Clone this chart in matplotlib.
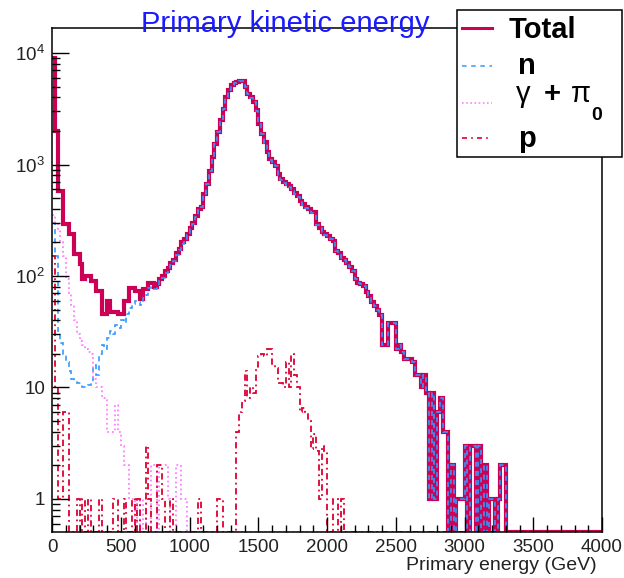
import numpy as np
import matplotlib
matplotlib.use("Agg")
import matplotlib.pyplot as plt
from matplotlib.patches import Rectangle
from matplotlib.ticker import FixedLocator, MultipleLocator, LogLocator, FuncFormatter, NullFormatter

plt.rcParams['font.family'] = ['Liberation Sans', 'DejaVu Sans']
plt.rcParams['mathtext.fontset'] = 'custom'
plt.rcParams['mathtext.rm'] = 'Liberation Sans'
plt.rcParams['mathtext.it'] = 'Liberation Sans:italic'
plt.rcParams['mathtext.bf'] = 'Liberation Sans:bold'

# ---------------- data (20 GeV bins from 0 to 4000 GeV) ----------------
bin_width = 20
energy_min, energy_max = 0, 4000

total = [
    9000, 2000, 580, 580, 294, 294, 239, 239, 158, 158,
    128, 94, 100, 100, 91, 91, 74, 74, 46, 46,
    60, 48, 48, 48, 46, 46, 60, 60, 78, 78,
    74, 74, 62, 76, 76, 87, 87, 80, 85, 94,
    100, 110, 118, 130, 140, 160, 175, 200, 215, 240,
    270, 300, 345, 400, 420, 545, 670, 883, 1164, 1535,
    1954, 2490, 3175, 4040, 4640, 5150, 5400, 5510, 5650, 5600,
    4970, 4330, 4000, 3640, 3060, 2330, 1890, 1590, 1291, 1125,
    1050, 980, 824, 743, 700, 670, 640, 604, 560, 526,
    474, 440, 412, 400, 372, 372, 292, 270, 250, 238,
    230, 215, 206, 168, 160, 146, 140, 132, 120, 111,
    95, 87, 84, 81, 72, 66, 58, 54, 50, 45,
    24, 24, 38, 38, 38, 22, 24, 21, 18, 18,
    18, 17, 13, 13, 10, 13, 9, 1, 9, 1,
    6, 8, 4, 4, 0, 2, 0, 1, 1, 1,
    3, 0, 3, 3, 0, 3, 0, 2, 0, 1,
    1, 0, 1, 2, 2, 0, 0, 0, 0, 0,
    0, 0, 0, 0, 0, 0, 0, 0, 0, 0,
    0, 0, 0, 0, 0, 0, 0, 0, 0, 0,
    0, 0, 0, 0, 0, 0, 0, 0, 0, 0,
]

neutron = [
    300, 150, 32, 25, 20, 17, 14, 12, 11.5, 11,
    11, 10, 10, 10.5, 11, 16, 13, 20, 24, 22,
    28, 32, 30, 36, 34, 40, 38, 46, 52, 56,
    60, 58, 55, 64, 68, 78, 80, 76, 82, 90,
    96, 106, 114, 126, 136, 155, 170, 195, 210, 235,
    265, 295, 340, 395, 415, 540, 665, 878, 1160, 1530,
    1950, 2485, 3170, 4030, 4630, 5140, 5390, 5500, 5640, 5590,
    4955, 4320, 3990, 3630, 3045, 2310, 1870, 1570, 1270, 1105,
    1035, 965, 813, 732, 690, 653, 630, 584, 547, 516,
    468, 433, 406, 395, 369, 368, 289, 269, 247, 235,
    230, 215, 205, 167, 160, 145, 140, 132, 120, 111,
    95, 87, 84, 81, 72, 66, 58, 54, 50, 45,
    24, 24, 38, 38, 38, 22, 24, 21, 18, 18,
    18, 17, 13, 13, 10, 13, 9, 1, 9, 1,
    6, 8, 4, 4, 0, 2, 0, 1, 1, 1,
    3, 0, 3, 3, 0, 3, 0, 2, 0, 1,
    1, 0, 1, 2, 2, 0, 0, 0, 0, 0,
    0, 0, 0, 0, 0, 0, 0, 0, 0, 0,
    0, 0, 0, 0, 0, 0, 0, 0, 0, 0,
    0, 0, 0, 0, 0, 0, 0, 0, 0, 0,
]

gamma_pi0 = [
    350, 300, 260, 200, 150, 95, 70, 55, 40, 30,
    26, 24, 22, 21, 20, 12, 10, 10, 8, 8,
    4, 4, 4, 7, 4, 3, 2, 2, 1, 1,
    0, 1, 0, 1, 0, 0, 2, 2, 0, 2,
    2, 2, 1, 0, 0, 2, 2, 1, 1, 0,
] + [0] * 150

proton = [
    150, 10, 1, 1, 6, 6, 0, 0, 0, 1,
    0, 1, 0, 1, 0, 0, 0, 1, 0, 0,
    0, 0, 1, 1, 0, 0, 1, 0, 0, 1,
    0, 1, 0, 0, 3, 1, 0, 0, 2, 2,
    1, 0, 0, 1, 0, 0, 0, 0, 0, 0,
    0, 0, 0, 1, 0, 0, 0, 0, 0, 0,
    1, 1, 0, 0, 0, 0, 0, 4, 6, 7.5,
    14, 8, 10, 9, 15, 19, 20, 19, 22, 22,
    16, 15, 11, 11, 10, 17, 10, 20, 13, 10,
    6, 6.6, 6, 5, 2.8, 3.8, 2.7, 1, 3, 2.7,
    0, 0, 1, 1, 0, 1, 0, 0, 0, 0,
] + [0] * 90

x_major = [0, 500, 1000, 1500, 2000, 2500, 3000, 3500, 4000]
y_major = [1, 10, 100, 1000, 10000]
y_labels = {1: '1', 10: '10', 100: r'$\mathregular{10^{2}}$',
            1000: r'$\mathregular{10^{3}}$', 10000: r'$\mathregular{10^{4}}$'}

# ---------------- figure ----------------
W, H = 624, 578
fig = plt.figure(figsize=(W / 100, H / 100), dpi=100)
ax_l, ax_r, ax_t, ax_b = 52, 602, 28, 532
ax = fig.add_axes([ax_l / W, 1 - ax_b / H, (ax_r - ax_l) / W, (ax_b - ax_t) / H])

ymin, ymax = 0.505, 1.68e4
edges = np.arange(energy_min, energy_max + bin_width, bin_width)


def floor(v):
    v = np.asarray(v, dtype=float)
    return np.where(v > 0, v, ymin)


c_total = '#cc0055'
c_n = '#3399ff'
c_g = '#ff80ff'
c_p = '#dd0033'

ax.stairs(floor(total), edges, baseline=None, color=c_total, lw=3.0)
ax.stairs(floor(neutron), edges, baseline=None, color=c_n, lw=1.2,
          linestyle=(0, (3, 2.5)))
ax.stairs(floor(gamma_pi0), edges, baseline=None, color=c_g, lw=1.3,
          linestyle=(0, (1, 1.6)))
ax.stairs(floor(proton), edges, baseline=None, color=c_p, lw=1.3,
          linestyle=(0, (3.5, 2, 1, 2)))

ax.set_yscale('log')
ax.set_xlim(energy_min, energy_max)
ax.set_ylim(ymin, ymax)

ax.xaxis.set_major_locator(FixedLocator(x_major))
ax.xaxis.set_minor_locator(MultipleLocator(100))
ax.yaxis.set_major_locator(FixedLocator(y_major))
ax.yaxis.set_minor_locator(LogLocator(base=10, subs=np.arange(2, 10), numticks=20))
ax.yaxis.set_minor_formatter(NullFormatter())
ax.yaxis.set_major_formatter(FuncFormatter(lambda v, p: y_labels.get(int(round(v)), '')))
ax.xaxis.set_major_formatter(FuncFormatter(lambda v, p: '%d' % v))

ax.tick_params(axis='both', which='both', direction='in', top=False, right=False,
               colors='black', labelcolor='#222222', labelsize=13.5, width=1.0)
ax.tick_params(axis='x', which='major', length=11, pad=5)
ax.tick_params(axis='x', which='minor', length=5)
ax.tick_params(axis='y', which='major', length=12, pad=5)
ax.tick_params(axis='y', which='minor', length=6)
for s in ax.spines.values():
    s.set_linewidth(1.1)
    s.set_color('black')

# ---------------- overlay in pixel coordinates ----------------
ov = fig.add_axes([0, 0, 1, 1], zorder=10)
ov.set_xlim(0, W)
ov.set_ylim(H, 0)
ov.axis('off')
ov.patch.set_alpha(0)

ov.text(285, 32, 'Primary kinetic energy', color='#1a1aff', fontsize=21,
        ha='center', va='baseline')

ov.text(597, 570, 'Primary energy (GeV)', color='#222222', fontsize=14,
        ha='right', va='baseline')

# legend box
ov.add_patch(Rectangle((457, 10), 165, 147, facecolor='white',
                       edgecolor='black', lw=1.1))
ov.plot([462, 492], [28, 28], color=c_total, lw=2.2)
ov.plot([462, 492], [66, 66], color=c_n, lw=1.1, linestyle=(0, (3, 3)))
ov.plot([462, 492], [103, 103], color=c_g, lw=1.2, linestyle=(0, (1, 1.5)))
ov.plot([462, 492], [138, 138], color=c_p, lw=1.2, linestyle=(0, (3, 2.5, 1, 2.5)))

ov.text(509, 38, 'Total', fontsize=21, fontweight='bold', ha='left', va='baseline')
ov.text(518, 74, 'n', fontsize=21, fontweight='bold', ha='left', va='baseline')
ov.text(516, 102, 'γ', fontsize=21, ha='left', va='baseline')
ov.text(544, 102, '+', fontsize=21, fontweight='bold', ha='left', va='baseline')
ov.text(571, 102, 'π', fontsize=21, ha='left', va='baseline')
ov.text(591, 120, '0', fontsize=14, fontweight='bold', ha='left', va='baseline')
ov.text(518, 147, 'p', fontsize=21, fontweight='bold', ha='left', va='baseline')

fig.savefig('out.png', dpi=100, facecolor='white')
